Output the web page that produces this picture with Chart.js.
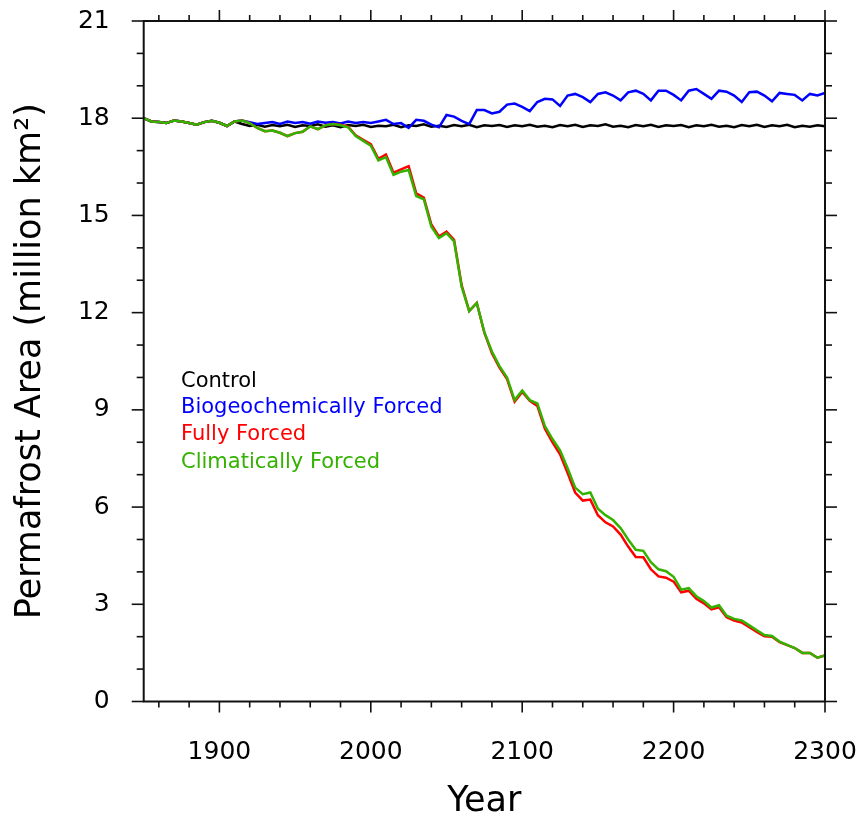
<!DOCTYPE html>
<html><head><meta charset="utf-8">
<script src="https://cdn.jsdelivr.net/npm/chart.js@4.4.0/dist/chart.umd.min.js"></script>
<style>html,body{margin:0;padding:0;background:#fff;}#wrap{position:absolute;left:0;top:0;width:862px;height:819px;}</style>
</head><body><div id="wrap"><canvas id="c" width="862" height="819"></canvas></div>
<script>
const years = [1850,1855,1860,1865,1870,1875,1880,1885,1890,1895,1900,1905,1910,
1915,1920,1925,1930,1935,1940,1945,1950,1955,1960,1965,1970,1975,
1980,1985,1990,1995,2000,2005,2010,2015,2020,2025,2030,2035,2040,
2045,2050,2055,2060,2065,2070,2075,2080,2085,2090,2095,2100,2105,
2110,2115,2120,2125,2130,2135,2140,2145,2150,2155,2160,2165,2170,
2175,2180,2185,2190,2195,2200,2205,2210,2215,2220,2225,2230,2235,
2240,2245,2250,2255,2260,2265,2270,2275,2280,2285,2290,2295,2300];

const control = [18.0,17.9,17.88,17.85,17.93,17.9,17.85,17.8,17.88,17.92,17.86,17.76,17.9,
17.82,17.76,17.8,17.74,17.79,17.75,17.8,17.73,17.78,17.76,17.81,17.74,17.78,
17.72,17.79,17.76,17.8,17.73,17.77,17.75,17.8,17.72,17.78,17.76,17.81,17.74,
17.77,17.73,17.79,17.75,17.8,17.72,17.78,17.76,17.79,17.73,17.78,17.75,17.8,
17.74,17.77,17.72,17.79,17.75,17.8,17.73,17.78,17.76,17.81,17.74,17.77,17.72,
17.79,17.75,17.8,17.73,17.78,17.76,17.79,17.72,17.78,17.75,17.8,17.74,17.77,
17.72,17.79,17.75,17.8,17.73,17.78,17.75,17.8,17.72,17.77,17.74,17.78,17.75];

const biogeo = [18.0,17.9,17.88,17.85,17.93,17.9,17.85,17.8,17.88,17.92,17.86,17.76,17.9,
17.93,17.88,17.82,17.85,17.88,17.82,17.9,17.85,17.88,17.83,17.9,17.86,17.88,
17.84,17.9,17.85,17.88,17.85,17.9,17.95,17.82,17.85,17.7,17.95,17.92,17.8,
17.72,18.1,18.05,17.92,17.82,18.25,18.25,18.15,18.2,18.42,18.45,18.35,18.22,
18.5,18.6,18.58,18.38,18.7,18.75,18.65,18.5,18.75,18.8,18.7,18.55,18.8,
18.85,18.75,18.55,18.85,18.85,18.72,18.55,18.85,18.9,18.75,18.6,18.85,18.82,
18.7,18.5,18.8,18.82,18.7,18.52,18.78,18.75,18.72,18.55,18.75,18.7,18.78];

const fully = [18.0,17.9,17.88,17.85,17.93,17.9,17.85,17.8,17.88,17.92,17.86,17.76,17.9,
17.93,17.85,17.7,17.6,17.62,17.55,17.45,17.54,17.58,17.75,17.66,17.78,17.82,
17.8,17.74,17.47,17.33,17.2,16.75,16.88,16.32,16.42,16.52,15.68,15.55,14.72,
14.35,14.5,14.25,12.85,12.05,12.3,11.38,10.75,10.3,9.95,9.25,9.55,9.28,
9.12,8.42,8.0,7.63,7.05,6.45,6.2,6.23,5.75,5.53,5.4,5.15,4.78,
4.46,4.45,4.08,3.86,3.82,3.7,3.37,3.42,3.17,3.03,2.84,2.91,2.6,
2.5,2.44,2.29,2.15,2.01,2.0,1.83,1.74,1.65,1.5,1.5,1.35,1.42];

const climatic = [18.0,17.9,17.88,17.85,17.93,17.9,17.85,17.8,17.88,17.92,17.86,17.76,17.9,
17.93,17.85,17.7,17.6,17.62,17.55,17.45,17.54,17.58,17.75,17.66,17.78,17.82,
17.78,17.72,17.45,17.3,17.15,16.7,16.8,16.25,16.35,16.4,15.6,15.5,14.65,
14.3,14.45,14.2,12.8,12.05,12.3,11.4,10.8,10.35,10.0,9.3,9.6,9.3,
9.2,8.5,8.1,7.75,7.2,6.6,6.4,6.45,5.95,5.75,5.6,5.35,5.0,
4.68,4.65,4.3,4.08,4.02,3.85,3.45,3.5,3.25,3.1,2.9,2.97,2.65,
2.55,2.5,2.35,2.2,2.05,2.02,1.85,1.75,1.65,1.5,1.5,1.35,1.42];

const seriesNames = ['Control','Biogeochemically Forced','Fully Forced','Climatically Forced'];
const seriesColors = ['#000000','#0000ff','#ff0000','#33b200'];
const xTickLabels = [1900,2000,2100,2200,2300];
const yTickLabels = [0,3,6,9,12,15,18,21];

const FONT = "'DejaVu Sans', Verdana, sans-serif";
const pts = arr => years.map((yr,i)=>({x:yr,y:arr[i]}));
const allSeries = [control, biogeo, fully, climatic];

const frame = {
  id:'frame',
  afterDatasetsDraw(chart){
    const {ctx, chartArea:{left,right,top,bottom}, scales:{x,y}} = chart;
    ctx.save();
    ctx.strokeStyle = '#111'; ctx.lineCap='butt';
    const ln=(a,b,c,d)=>{ctx.beginPath();ctx.moveTo(a,b);ctx.lineTo(c,d);ctx.stroke();};
    ctx.lineWidth = 1.6;
    for (let v=1860; v<=2300; v+=20){
      const px = x.getPixelForValue(v);
      const L = (v%100===0)?11:6;
      ln(px,bottom,px,bottom+L); ln(px,top,px,top-L);
    }
    for (let v=0; v<=21; v+=1){
      const py = y.getPixelForValue(v);
      const L = (v%3===0)?12:7;
      ln(left,py,left-L,py); ln(right,py,right+L,py);
    }
    ctx.lineWidth = 2;
    ctx.strokeRect(left,top,right-left,bottom-top);
    ctx.font = "21px " + FONT;
    ctx.textAlign='left'; ctx.textBaseline='alphabetic';
    const base=[387,412.5,440,467.5];
    seriesNames.forEach((n,i)=>{ctx.fillStyle=seriesColors[i]; ctx.fillText(n,181,base[i]);});
    ctx.restore();
  }
};

const orders=[3,2,1,0];
new Chart(document.getElementById('c'),{
  type:'line',
  data:{datasets: allSeries.map((s,i)=>({label:seriesNames[i], data:pts(s), borderColor:seriesColors[i], backgroundColor:seriesColors[i], order:orders[i], borderWidth:2.5, pointRadius:0, fill:false, tension:0}))},
  options:{
    responsive:false, animation:false, devicePixelRatio:1,
    layout:{autoPadding:false, padding:{left:0,right:37,top:21,bottom:0}},
    plugins:{legend:{display:false}, tooltip:{enabled:false}},
    scales:{
      x:{type:'linear', min:1850, max:2300,
        afterBuildTicks:s=>{s.ticks=xTickLabels.map(v=>({value:v}));},
        grid:{display:false, drawTicks:false}, border:{display:false},
        ticks:{font:{family:FONT,size:25}, color:'#000', padding:36, maxRotation:0, autoSkip:false, callback:v=>String(v)},
        title:{display:true, text:'Year', color:'#000', font:{family:FONT,size:35,lineHeight:1}, padding:{top:0,bottom:0}},
        afterFit:s=>{s.height=117.5; s.paddingLeft=0; s.paddingRight=0;}
      },
      y:{min:0, max:21,
        afterBuildTicks:s=>{s.ticks=yTickLabels.map(v=>({value:v}));},
        grid:{display:false, drawTicks:false}, border:{display:false},
        ticks:{font:{family:FONT,size:25}, color:'#000', padding:34, autoSkip:false, callback:v=>String(v)},
        title:{display:true, text:'Permafrost Area (million km²)', color:'#000', font:{family:FONT,size:35,lineHeight:1}, padding:{top:13,bottom:0}},
        afterFit:s=>{s.width=143.7; s.paddingTop=0; s.paddingBottom=0;}
      }
    }
  },
  plugins:[frame]
});
</script></body></html>
